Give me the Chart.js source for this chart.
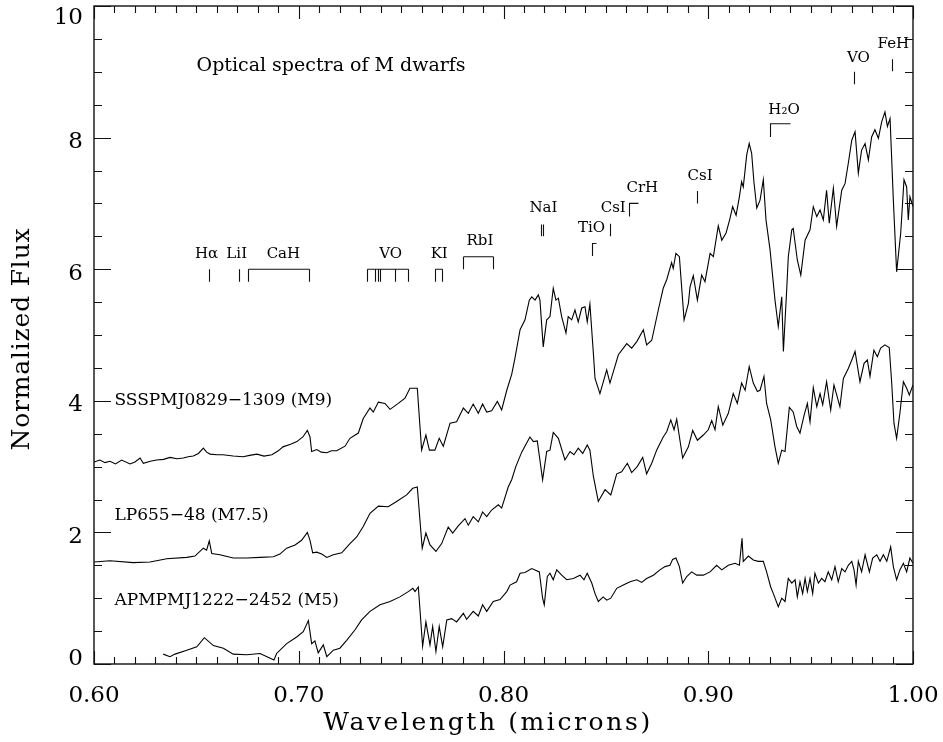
<!DOCTYPE html>
<html>
<head>
<meta charset="utf-8">
<script src="https://cdn.jsdelivr.net/npm/chart.js@4.4.1/dist/chart.umd.min.js"></script>
<style>
  html, body { margin: 0; padding: 0; background: #fff; }
</style>
</head>
<body>
<canvas id="spectra" width="943" height="742"></canvas>
<script>
// SSSPMJ0829-1309 (M9), offset spectrum
const m9Wave = [0.6000,0.6029,0.6054,0.6078,0.6105,0.6135,0.6176,0.6200,0.6225,0.6241,
  0.6275,0.6306,0.6340,0.6371,0.6405,0.6436,0.6460,0.6485,0.6510,0.6534,
  0.6550,0.6567,0.6600,0.6630,0.6680,0.6728,0.6760,0.6796,0.6830,0.6869,
  0.6900,0.6923,0.6960,0.6991,0.7020,0.7042,0.7055,0.7063,0.7088,0.7110,
  0.7137,0.7160,0.7185,0.7226,0.7250,0.7291,0.7315,0.7348,0.7364,0.7389,
  0.7421,0.7446,0.7486,0.7519,0.7543,0.7579,0.7600,0.7621,0.7638,0.7665,
  0.7686,0.7706,0.7739,0.7771,0.7804,0.7828,0.7852,0.7877,0.7898,0.7918,
  0.7942,0.7970,0.7991,0.8016,0.8040,0.8056,0.8081,0.8105,0.8126,0.8138,
  0.8154,0.8170,0.8178,0.8194,0.8211,0.8227,0.8243,0.8256,0.8268,0.8284,
  0.8305,0.8316,0.8333,0.8349,0.8365,0.8382,0.8398,0.8409,0.8422,0.8439,
  0.8447,0.8471,0.8504,0.8520,0.8561,0.8602,0.8626,0.8651,0.8683,0.8699,
  0.8724,0.8756,0.8780,0.8797,0.8821,0.8829,0.8842,0.8859,0.8882,0.8903,
  0.8911,0.8927,0.8947,0.8968,0.8984,0.9009,0.9025,0.9049,0.9066,0.9087,
  0.9106,0.9119,0.9136,0.9152,0.9163,0.9171,0.9188,0.9200,0.9212,0.9223,
  0.9237,0.9253,0.9269,0.9282,0.9302,0.9326,0.9342,0.9359,0.9367,0.9383,
  0.9391,0.9408,0.9415,0.9435,0.9452,0.9473,0.9497,0.9513,0.9530,0.9546,
  0.9562,0.9578,0.9591,0.9611,0.9627,0.9652,0.9668,0.9684,0.9701,0.9717,
  0.9733,0.9749,0.9766,0.9782,0.9798,0.9814,0.9831,0.9847,0.9863,0.9875,
  0.9888,0.9904,0.9920,0.9940,0.9956,0.9969,0.9977,0.9985,1.0000];
const m9Flux = [3.07,3.10,3.06,3.08,3.04,3.10,3.04,3.07,3.13,3.05,
  3.08,3.10,3.11,3.14,3.12,3.13,3.15,3.16,3.20,3.28,
  3.22,3.19,3.18,3.18,3.16,3.15,3.17,3.19,3.16,3.18,
  3.24,3.30,3.34,3.38,3.45,3.55,3.45,3.23,3.26,3.22,
  3.21,3.24,3.24,3.31,3.43,3.51,3.73,3.89,3.83,3.98,
  3.96,3.87,3.96,4.04,4.19,4.19,3.25,3.48,3.25,3.25,
  3.43,3.31,3.66,3.68,3.89,3.81,3.95,3.81,3.95,3.83,
  3.85,3.99,3.86,4.16,4.40,4.65,5.08,5.23,5.53,5.58,
  5.53,5.61,5.53,4.82,5.23,5.28,5.71,5.53,5.56,5.28,
  5.03,5.28,5.23,5.38,5.20,5.41,5.43,5.20,5.47,4.72,
  4.34,4.11,4.47,4.27,4.70,4.87,4.80,4.90,5.08,4.85,
  4.92,5.38,5.71,5.84,6.10,6.01,6.24,6.19,5.23,5.48,
  5.73,5.90,5.53,5.91,5.81,6.24,6.19,6.66,6.44,6.55,
  6.77,6.95,6.82,7.10,7.33,7.25,7.74,7.91,7.76,7.33,
  6.93,7.05,7.36,6.75,6.29,5.53,5.13,5.58,4.75,5.68,
  6.19,6.60,6.62,6.14,5.91,6.44,6.60,6.95,6.80,6.90,
  6.75,7.20,6.70,7.23,6.65,7.20,7.30,7.61,7.96,8.09,
  7.46,7.81,7.91,7.66,8.01,8.12,7.99,8.24,8.39,8.17,
  8.29,7.05,5.96,6.55,7.36,7.25,6.75,7.10,6.95];

// LP655-48 (M7.5)
const m75Wave = [0.6000,0.6078,0.6192,0.6274,0.6355,0.6453,0.6493,0.6534,0.6550,0.6563,
  0.6575,0.6615,0.6680,0.6746,0.6811,0.6876,0.6908,0.6941,0.6982,0.7014,
  0.7042,0.7055,0.7068,0.7088,0.7112,0.7137,0.7169,0.7210,0.7250,0.7283,
  0.7315,0.7348,0.7389,0.7437,0.7478,0.7527,0.7557,0.7579,0.7603,0.7621,
  0.7641,0.7670,0.7698,0.7730,0.7752,0.7779,0.7812,0.7828,0.7852,0.7877,
  0.7898,0.7918,0.7942,0.7975,0.7991,0.8023,0.8040,0.8060,0.8089,0.8129,
  0.8146,0.8165,0.8191,0.8211,0.8227,0.8243,0.8268,0.8300,0.8325,0.8344,
  0.8365,0.8387,0.8409,0.8422,0.8439,0.8463,0.8496,0.8524,0.8553,0.8577,
  0.8605,0.8626,0.8653,0.8680,0.8699,0.8724,0.8748,0.8780,0.8797,0.8817,
  0.8833,0.8846,0.8875,0.8903,0.8924,0.8947,0.8976,0.9000,0.9017,0.9033,
  0.9049,0.9071,0.9098,0.9122,0.9142,0.9163,0.9180,0.9200,0.9220,0.9240,
  0.9253,0.9272,0.9285,0.9305,0.9326,0.9342,0.9359,0.9375,0.9396,0.9415,
  0.9432,0.9448,0.9468,0.9484,0.9497,0.9513,0.9530,0.9546,0.9559,0.9578,
  0.9598,0.9614,0.9630,0.9643,0.9660,0.9684,0.9701,0.9717,0.9741,0.9761,
  0.9777,0.9790,0.9809,0.9826,0.9842,0.9863,0.9884,0.9896,0.9907,0.9920,
  0.9936,0.9953,0.9969,0.9982,1.0000];
const m75Flux = [1.55,1.57,1.54,1.55,1.60,1.62,1.64,1.76,1.73,1.87,
  1.68,1.66,1.61,1.61,1.62,1.63,1.67,1.76,1.81,1.88,
  2.00,1.88,1.69,1.70,1.67,1.62,1.66,1.69,1.83,1.93,
  2.09,2.29,2.40,2.39,2.47,2.57,2.67,2.69,1.76,1.99,
  1.81,1.71,1.83,2.08,1.99,2.10,2.21,2.11,2.24,2.16,
  2.31,2.24,2.34,2.42,2.37,2.69,2.80,3.00,3.22,3.45,
  3.38,3.39,2.80,3.23,3.25,3.52,3.43,3.10,3.23,3.18,
  3.28,3.20,3.33,3.25,2.85,2.47,2.65,2.57,2.89,2.92,
  3.05,2.91,3.00,3.14,2.89,3.05,3.25,3.45,3.53,3.71,
  3.56,3.72,3.13,3.30,3.55,3.40,3.48,3.56,3.70,3.56,
  3.91,3.63,3.81,4.11,3.96,4.27,4.16,4.52,4.27,4.14,
  4.16,4.37,3.96,3.71,3.30,3.05,3.25,3.23,3.90,3.83,
  3.61,3.51,3.78,3.96,3.68,4.20,3.91,4.11,3.94,4.29,
  3.86,4.24,4.06,3.91,4.34,4.49,4.62,4.75,4.29,4.57,
  4.62,4.37,4.77,4.67,4.80,4.85,4.81,4.27,3.66,3.43,
  3.81,4.29,4.19,4.09,4.24];

// APMPMJ1222-2452 (M5)
const m5Wave = [0.6338,0.6371,0.6396,0.6453,0.6502,0.6539,0.6583,0.6632,0.6680,0.6746,
  0.6811,0.6879,0.6892,0.6941,0.6990,0.7022,0.7047,0.7063,0.7079,0.7095,
  0.7120,0.7137,0.7169,0.7201,0.7234,0.7275,0.7307,0.7348,0.7397,0.7446,
  0.7494,0.7535,0.7557,0.7568,0.7584,0.7605,0.7621,0.7641,0.7654,0.7670,
  0.7686,0.7703,0.7723,0.7747,0.7771,0.7804,0.7820,0.7852,0.7877,0.7898,
  0.7918,0.7950,0.7983,0.8016,0.8032,0.8064,0.8081,0.8105,0.8138,0.8154,
  0.8175,0.8191,0.8199,0.8214,0.8227,0.8243,0.8260,0.8284,0.8309,0.8341,
  0.8374,0.8393,0.8409,0.8431,0.8447,0.8463,0.8487,0.8504,0.8524,0.8553,
  0.8585,0.8618,0.8651,0.8675,0.8699,0.8732,0.8764,0.8789,0.8813,0.8826,
  0.8842,0.8859,0.8875,0.8895,0.8919,0.8944,0.8976,0.9009,0.9041,0.9066,
  0.9098,0.9131,0.9152,0.9165,0.9171,0.9196,0.9220,0.9244,0.9269,0.9285,
  0.9305,0.9318,0.9342,0.9359,0.9375,0.9391,0.9408,0.9424,0.9435,0.9448,
  0.9461,0.9473,0.9484,0.9497,0.9510,0.9521,0.9538,0.9554,0.9570,0.9586,
  0.9603,0.9619,0.9635,0.9652,0.9668,0.9684,0.9701,0.9712,0.9722,0.9733,
  0.9749,0.9766,0.9787,0.9803,0.9823,0.9839,0.9855,0.9872,0.9891,0.9904,
  0.9920,0.9936,0.9953,0.9969,0.9985,1.0000];
const m5Flux = [0.15,0.11,0.15,0.21,0.26,0.40,0.28,0.24,0.15,0.14,
  0.16,0.06,0.16,0.31,0.41,0.49,0.66,0.31,0.35,0.17,
  0.29,0.11,0.21,0.24,0.36,0.52,0.67,0.80,0.90,0.95,
  1.02,1.10,1.15,1.10,1.17,0.27,0.64,0.29,0.57,0.19,
  0.57,0.26,0.67,0.69,0.64,0.77,0.68,0.80,0.73,0.90,
  0.80,0.95,0.98,1.10,1.20,1.25,1.38,1.39,1.45,1.43,
  1.40,1.00,0.90,1.33,1.38,1.28,1.43,1.35,1.28,1.30,
  1.35,1.28,1.38,1.23,1.07,0.95,1.02,0.97,1.00,1.15,
  1.20,1.25,1.28,1.24,1.30,1.35,1.43,1.48,1.50,1.59,
  1.61,1.48,1.23,1.33,1.40,1.35,1.35,1.40,1.50,1.43,
  1.50,1.53,1.50,1.91,1.56,1.64,1.58,1.56,1.56,1.40,
  1.17,1.07,0.87,1.00,0.95,1.30,1.23,1.28,1.02,1.25,
  1.07,1.30,1.10,1.30,1.07,1.38,1.23,1.30,1.25,1.40,
  1.28,1.48,1.25,1.45,1.40,1.50,1.56,1.43,1.20,1.56,
  1.40,1.66,1.40,1.61,1.66,1.56,1.66,1.56,1.78,1.48,
  1.28,1.43,1.53,1.40,1.61,1.53];

// object names and where they are written
const starNames = ['SSSPMJ0829\u22121309 (M9)', 'LP655\u221248 (M7.5)', 'APMPMJ1222\u22122452 (M5)'];
const starLabelWave = [0.610, 0.610, 0.610];
const starLabelFlux = [4.00, 2.26, 0.97];

// line and band identifications
const featNames = ['H\u03b1', 'LiI', 'CaH', 'VO', 'KI', 'RbI', 'NaI', 'TiO', 'CsI', 'CrH', 'CsI', 'H\u2082O', 'VO', 'FeH'];
const featLabelWave = [0.6550, 0.6697, 0.6925, 0.7449, 0.7686, 0.7885, 0.8195, 0.8430, 0.8536, 0.8678, 0.8960, 0.9370, 0.9733, 0.9904];
const featLabelFlux = [6.23, 6.23, 6.23, 6.23, 6.23, 6.42, 6.93, 6.62, 6.93, 7.23, 7.42, 8.42, 9.21, 9.42];
const featMarkWave = [[0.6562], [0.6708], [0.6751, 0.7050],
  [0.7333, 0.7372, 0.7387, 0.7397, 0.7472, 0.7534], [0.7664, 0.7700], [0.7801, 0.7947],
  [0.8183, 0.8192], [0.8434, 0.8452], [0.8522], [0.8613, 0.8658], [0.8945],
  [0.9302, 0.9399], [0.9713], [0.9899]];
const featMarkLow = [5.81, 5.81, 5.81, 5.81, 5.81, 6.00, 6.50, 6.20, 6.50, 6.80, 7.00, 8.01, 8.81, 9.01];
const featMarkHigh = [6.00, 6.00, 6.00, 6.00, 6.00, 6.19, 6.68, 6.39, 6.69, 7.00, 7.19, 8.21, 9.00, 9.19];
const featMarkKind = ['tick', 'tick', 'bracket', 'bracket', 'bracket', 'bracket', 'tick', 'band', 'tick', 'band', 'tick', 'band', 'tick', 'tick'];

const plotTitle = 'Optical spectra of M dwarfs';
const xTitle = 'Wavelength (microns)';
const yTitle = 'Normalized Flux';

const serif = '"DejaVu Serif", serif';

function toPoints(wave, flux) {
  return wave.map((w, i) => ({ x: w, y: flux[i] }));
}

// box, inward ticks on all four sides, labels and the identifications
const framePlugin = {
  id: 'frame',
  afterDraw(chart) {
    const ctx = chart.ctx;
    const a = chart.chartArea;
    const xs = chart.scales.x;
    const ys = chart.scales.y;
    ctx.save();
    ctx.strokeStyle = '#111';
    ctx.fillStyle = '#000';

    ctx.lineWidth = 1.4;
    ctx.strokeRect(a.left, a.top, a.right - a.left, a.bottom - a.top);

    ctx.lineWidth = 1.1;
    ctx.beginPath();
    for (let i = 0; i <= 40; i++) {
      const px = Math.round(xs.getPixelForValue(0.6 + i * 0.01)) + 0.5;
      const len = i % 10 === 0 ? 13 : 7;
      ctx.moveTo(px, a.bottom); ctx.lineTo(px, a.bottom - len);
      ctx.moveTo(px, a.top); ctx.lineTo(px, a.top + len);
    }
    for (let i = 0; i <= 20; i++) {
      const py = Math.round(ys.getPixelForValue(i * 0.5)) + 0.5;
      const len = i % 4 === 0 ? 17 : 8;
      ctx.moveTo(a.left, py); ctx.lineTo(a.left + len, py);
      ctx.moveTo(a.right, py); ctx.lineTo(a.right - len, py);
    }
    ctx.stroke();

    // tick labels
    ctx.font = '23px ' + serif;
    ctx.textBaseline = 'alphabetic';
    ctx.textAlign = 'center';
    xs.ticks.forEach(t => {
      ctx.fillText(t.value.toFixed(2), xs.getPixelForValue(t.value), a.bottom + 38);
    });
    ctx.textAlign = 'right';
    ys.ticks.forEach(t => {
      let base = ys.getPixelForValue(t.value) + 10.5;
      base = Math.min(Math.max(base, a.top + 18), a.bottom + 1);
      ctx.fillText(String(t.value), a.left - 11, base);
    });

    // axis titles, widely spaced like the plotting package's stroke font
    ctx.textAlign = 'left';
    ctx.textBaseline = 'middle';
    ctx.font = '25px ' + serif;
    ctx.letterSpacing = '2.6px';
    let w = ctx.measureText(xTitle).width;
    ctx.fillText(xTitle, 488 - w / 2, a.bottom + 59);
    ctx.letterSpacing = '0.8px';
    w = ctx.measureText(yTitle).width;
    ctx.save();
    ctx.translate(22, 339);
    ctx.rotate(-Math.PI / 2);
    ctx.fillText(yTitle, -w / 2, 0);
    ctx.restore();
    ctx.letterSpacing = '0px';

    // title and object names
    ctx.font = '19px ' + serif;
    ctx.fillText(plotTitle, xs.getPixelForValue(0.6501), ys.getPixelForValue(9.09));
    ctx.font = '17px ' + serif;
    starNames.forEach((name, i) => {
      ctx.fillText(name, xs.getPixelForValue(starLabelWave[i]), ys.getPixelForValue(starLabelFlux[i]));
    });

    // identification marks
    ctx.lineWidth = 1.1;
    ctx.beginPath();
    featNames.forEach((name, i) => {
      const lo = ys.getPixelForValue(featMarkLow[i]);
      const hi = ys.getPixelForValue(featMarkHigh[i]);
      const px = featMarkWave[i].map(v => Math.round(xs.getPixelForValue(v)) + 0.5);
      const kind = featMarkKind[i];
      if (kind === 'tick') {
        px.forEach(p => { ctx.moveTo(p, lo); ctx.lineTo(p, hi); });
      } else if (kind === 'bracket') {
        ctx.moveTo(px[0], hi); ctx.lineTo(px[px.length - 1], hi);
        px.forEach(p => { ctx.moveTo(p, hi); ctx.lineTo(p, lo); });
      } else {
        ctx.moveTo(px[0], lo); ctx.lineTo(px[0], hi); ctx.lineTo(px[1], hi);
      }
    });
    ctx.stroke();

    ctx.font = '15px ' + serif;
    ctx.textAlign = 'center';
    featNames.forEach((name, i) => {
      ctx.fillText(name, xs.getPixelForValue(featLabelWave[i]), ys.getPixelForValue(featLabelFlux[i]));
    });
    ctx.restore();
  }
};

const lineStyle = { borderColor: '#000', borderWidth: 1.1, pointRadius: 0, fill: false, tension: 0 };

new Chart(document.getElementById('spectra').getContext('2d'), {
  type: 'line',
  data: {
    datasets: [
      Object.assign({ label: starNames[0], data: toPoints(m9Wave, m9Flux) }, lineStyle),
      Object.assign({ label: starNames[1], data: toPoints(m75Wave, m75Flux) }, lineStyle),
      Object.assign({ label: starNames[2], data: toPoints(m5Wave, m5Flux) }, lineStyle)
    ]
  },
  options: {
    responsive: false,
    animation: false,
    layout: { padding: { top: 6, right: 30, left: 0, bottom: 0 } },
    plugins: { legend: { display: false }, tooltip: { enabled: false } },
    scales: {
      x: {
        type: 'linear', min: 0.6, max: 1.0,
        grid: { display: false }, border: { display: false },
        ticks: { display: false, stepSize: 0.1 },
        afterFit: s => { s.height = 78; }
      },
      y: {
        type: 'linear', min: 0, max: 10,
        grid: { display: false }, border: { display: false },
        ticks: { display: false, stepSize: 2 },
        afterFit: s => { s.width = 94; }
      }
    }
  },
  plugins: [framePlugin]
});
</script>
</body>
</html>
